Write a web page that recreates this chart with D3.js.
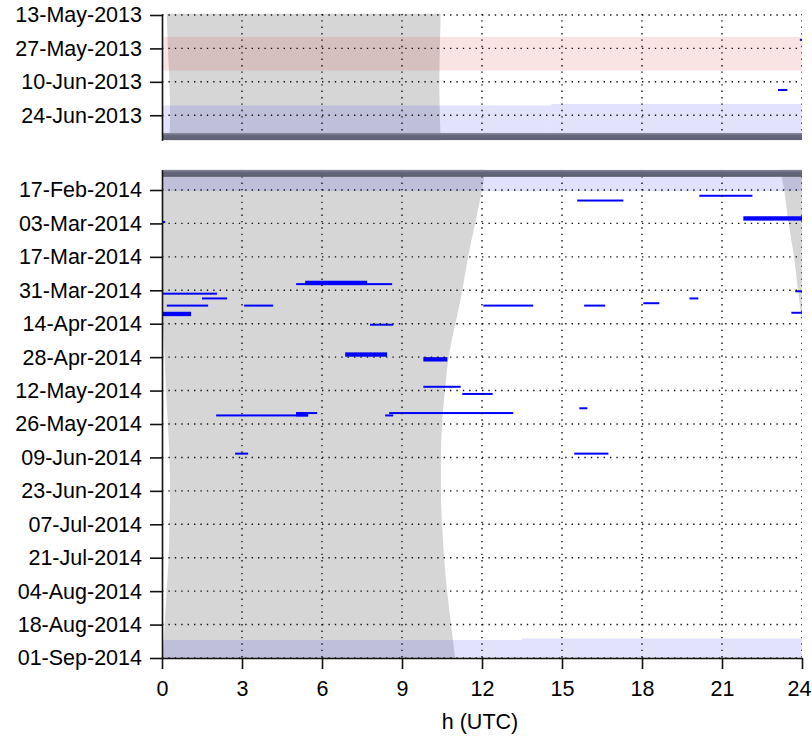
<!DOCTYPE html>
<html><head><meta charset="utf-8">
<script src="https://cdn.jsdelivr.net/npm/d3@7"></script>
<style>
body{margin:0;background:#fff}
svg text{font-family:"Liberation Sans",Arial,sans-serif}
</style>
</head><body>
<svg id="chart" width="812" height="740"></svg>
<script>
// ---------------- data ----------------
const hourTicks = [0, 3, 6, 9, 12, 15, 18, 21, 24];
const topTickLabels = ["13-May-2013", "27-May-2013", "10-Jun-2013", "24-Jun-2013"];
const bottomTickLabels = ["17-Feb-2014", "03-Mar-2014", "17-Mar-2014", "31-Mar-2014", "14-Apr-2014",
  "28-Apr-2014", "12-May-2014", "26-May-2014", "09-Jun-2014", "23-Jun-2014", "07-Jul-2014",
  "21-Jul-2014", "04-Aug-2014", "18-Aug-2014", "01-Sep-2014"];
const topDomain = ["2013-05-12T12:00", "2013-07-04T12:00"];
const bottomDomain = ["2014-02-08T12:00", "2014-09-01T00:00"];
const xLabel = "h (UTC)";

// night (grey): sunset hour (values > 24 = after midnight) and sunrise hour
const nightDatesTop = ["2013-05-12T00:00", "2013-05-27T00:00", "2013-06-10T00:00", "2013-06-24T00:00", "2013-07-05T00:00"];
const nightSetTop   = [24.18, 24.22, 24.28, 24.30, 24.28];
const nightRiseTop  = [10.45, 10.42, 10.40, 10.42, 10.45];
const nightDatesBottom = ["2014-02-08T00:00", "2014-02-17T00:00", "2014-03-03T00:00", "2014-03-17T00:00",
  "2014-03-31T00:00", "2014-04-09T00:00", "2014-04-14T00:00", "2014-04-28T00:00", "2014-05-12T00:00",
  "2014-05-26T00:00", "2014-06-09T00:00", "2014-06-23T00:00", "2014-07-07T00:00", "2014-07-21T00:00",
  "2014-08-04T00:00", "2014-08-18T00:00", "2014-09-01T00:00"];
const nightSetBottom  = [23.18, 23.33, 23.50, 23.70, 23.85, 23.95, 24.03, 24.10, 24.15, 24.22, 24.28,
  24.30, 24.28, 24.25, 24.17, 24.10, 24.02];
const nightRiseBottom = [12.14, 12.00, 11.74, 11.48, 11.26, 11.10, 11.00, 10.75, 10.61, 10.50, 10.46,
  10.46, 10.50, 10.58, 10.69, 10.84, 10.99];

// shaded periods
const bandPanel = ["top", "top", "top", "top", "bottom", "bottom", "bottom", "bottom"];
const bandKind  = ["red", "blue", "blue", "dark", "dark", "blue", "blue", "blue"];
const bandStart = ["2013-05-22T05:00", "2013-06-19T22:00", "2013-06-19T07:00", "2013-07-01T10:00",
  "2014-02-08T12:00", "2014-02-11T12:00", "2014-08-24T11:00", "2014-08-23T20:00"];
const bandEnd   = ["2013-06-05T06:00", "2013-07-01T10:00", "2013-07-01T10:00", "2013-07-04T12:00",
  "2014-02-11T12:00", "2014-02-17T10:00", "2014-09-01T00:00", "2014-09-01T00:00"];
const bandH0 = [0, 0, 14.6, 0, 0, 0, 0, 13.5];
const bandH1 = [24, 14.6, 24, 24, 24, 24, 13.5, 24];

// events: start day, duration in days, start hour, end hour
const eventDate = ["2013-05-23", "2013-06-13",
  "2014-02-19", "2014-02-21", "2014-02-28", "2014-03-02", "2014-03-28", "2014-03-27", "2014-03-31",
  "2014-04-01", "2014-04-03", "2014-04-03", "2014-04-05", "2014-04-06", "2014-04-06", "2014-04-06",
  "2014-04-06", "2014-04-09", "2014-04-09", "2014-04-14", "2014-04-26", "2014-04-28", "2014-05-10",
  "2014-05-13", "2014-05-19", "2014-05-21", "2014-05-21", "2014-05-22", "2014-05-21", "2014-05-22",
  "2014-06-07", "2014-06-07"];
const eventDays = [1, 1,
  1, 1, 2, 1, 1, 2, 1,
  1, 1, 1, 1, 1, 1, 1,
  1, 2, 1, 1, 2, 2, 1,
  1, 1, 1, 2, 1, 1, 1,
  1, 1];
const eventH0 = [23.92, 23.10,
  20.15, 15.57, 21.80, 0.00, 5.03, 5.37, 23.75,
  0.00, 1.50, 19.78, 18.05, 0.18, 3.08, 12.05,
  15.83, 0.00, 23.60, 7.80, 6.87, 9.80, 9.80,
  11.26, 15.65, 5.03, 5.03, 2.03, 8.52, 8.37,
  2.74, 15.46];
const eventH1 = [24.00, 23.45,
  22.14, 17.30, 24.00, 0.12, 8.63, 7.69, 24.00,
  2.06, 2.44, 20.11, 18.65, 1.73, 4.17, 13.92,
  16.62, 1.09, 24.00, 8.67, 8.44, 10.70, 11.20,
  12.40, 15.95, 5.82, 5.48, 5.48, 13.17, 8.67,
  3.23, 16.74];

// ---------------- drawing ----------------
const parseT = d3.utcParse("%Y-%m-%dT%H:%M");
const parseD = d3.utcParse("%Y-%m-%d");
const parseLbl = d3.utcParse("%d-%b-%Y");
const fmtLbl = d3.utcFormat("%d-%b-%Y");
const FONT = '"Liberation Sans", Arial, sans-serif';

const svg = d3.select("#chart");
const X0 = 162, X1 = 802;
const x = d3.scaleLinear().domain([0, 24]).range([X0, X1]);

const panels = {
  top: {
    y: d3.scaleUtc().domain(topDomain.map(parseT)).range([13.8, 140.3]),
    ticks: topTickLabels.map(parseLbl),
    night: nightDatesTop.map((d, i) => ({date: parseT(d), set: nightSetTop[i], rise: nightRiseTop[i]}))
  },
  bottom: {
    y: d3.scaleUtc().domain(bottomDomain.map(parseT)).range([169.7, 658]),
    ticks: bottomTickLabels.map(parseLbl),
    night: nightDatesBottom.map((d, i) => ({date: parseT(d), set: nightSetBottom[i], rise: nightRiseBottom[i]}))
  }
};

const colors = {
  night: "#d6d6d6",
  red: "rgba(215,40,40,0.13)",
  blue: "rgba(60,60,235,0.15)",
  dark: "#67677c",
  event: "#0000ff"
};

const defs = svg.append("defs");

Object.entries(panels).forEach(([name, p]) => {
  const y = p.y;
  const [yA, yB] = y.range();
  const clipId = "clip-" + name;
  defs.append("clipPath").attr("id", clipId)
    .append("rect").attr("x", X0).attr("y", yA).attr("width", X1 - X0).attr("height", yB - yA);

  const g = svg.append("g").attr("clip-path", `url(#${clipId})`);

  // night area
  const areaL = d3.area().curve(d3.curveMonotoneY)
    .y(d => y(d.date)).x0(d => x(Math.max(0, d.set - 24))).x1(d => x(d.rise));
  const areaR = d3.area().curve(d3.curveMonotoneY)
    .y(d => y(d.date)).x0(d => x(Math.min(24, d.set))).x1(() => x(24));
  g.append("path").attr("d", areaL(p.night)).attr("fill", colors.night);
  g.append("path").attr("d", areaR(p.night)).attr("fill", colors.night);

  // shaded bands (non-dark)
  const bands = bandPanel.map((pn, i) => ({pn, kind: bandKind[i], s: parseT(bandStart[i]), e: parseT(bandEnd[i]), h0: bandH0[i], h1: bandH1[i]}))
    .filter(b => b.pn === name);
  g.selectAll("rect.band").data(bands.filter(b => b.kind !== "dark")).join("rect")
    .attr("class", "band")
    .attr("x", d => x(d.h0)).attr("width", d => x(d.h1) - x(d.h0))
    .attr("y", d => y(d.s)).attr("height", d => y(d.e) - y(d.s))
    .attr("fill", d => colors[d.kind]);

  // events
  const evs = eventDate.map((d, i) => ({s: parseD(d), days: eventDays[i], h0: eventH0[i], h1: eventH1[i]}))
    .filter(e => e.s >= y.domain()[0] && e.s <= y.domain()[1]);
  g.selectAll("rect.ev").data(evs).join("rect")
    .attr("class", "ev")
    .attr("x", d => x(d.h0)).attr("width", d => Math.max(1, x(d.h1) - x(d.h0)))
    .attr("y", d => y(d.s)).attr("height", d => y(d3.utcDay.offset(d.s, d.days)) - y(d.s) - 0.4)
    .attr("fill", colors.event);

  // grid
  const grid = g.append("g").attr("stroke", "#111").attr("stroke-width", 1.4)
    .attr("stroke-dasharray", "1.4 5").attr("fill", "none");
  grid.selectAll("line.v").data(hourTicks.filter(h => h > 0)).join("line")
    .attr("x1", d => x(d)).attr("x2", d => x(d)).attr("y1", yA).attr("y2", yB);
  grid.selectAll("line.h").data(p.ticks).join("line")
    .attr("x1", X0).attr("x2", X1).attr("y1", d => y(d)).attr("y2", d => y(d));

  // dark bands
  const darkGrad = "grad-" + name;
  const lg = defs.append("linearGradient").attr("id", darkGrad).attr("x1", 0).attr("x2", 0).attr("y1", 0).attr("y2", 1);
  lg.append("stop").attr("offset", "0%").attr("stop-color", "#8e8ea3");
  lg.append("stop").attr("offset", "35%").attr("stop-color", colors.dark);
  lg.append("stop").attr("offset", "100%").attr("stop-color", "#5e5e72");
  g.selectAll("rect.dark").data(bands.filter(b => b.kind === "dark")).join("rect")
    .attr("class", "dark")
    .attr("x", d => x(d.h0)).attr("width", d => x(d.h1) - x(d.h0))
    .attr("y", d => y(d.s)).attr("height", d => y(d.e) - y(d.s))
    .attr("fill", `url(#${darkGrad})`);

  // left axis
  const ax = svg.append("g").attr("transform", `translate(${X0},0)`)
    .call(d3.axisLeft(y).tickValues(p.ticks).tickFormat(fmtLbl).tickSize(12).tickSizeOuter(0).tickPadding(8));
  ax.selectAll("text").attr("font-size", 21.5).attr("fill", "#000").style("font-family", FONT);
  ax.selectAll("line,path").attr("stroke", "#111").attr("stroke-width", 1.6);
});

// bottom axis
const yb = panels.bottom.y.range()[1];
const bx = svg.append("g").attr("transform", `translate(0,${yb})`)
  .call(d3.axisBottom(x).tickValues(hourTicks).tickFormat(d3.format("d")).tickSize(11).tickSizeOuter(0).tickPadding(12));
bx.selectAll("text").attr("font-size", 21.5).attr("fill", "#000").style("font-family", FONT)
  .attr("dx", d => d === 24 ? -3 : 0);
bx.selectAll("line,path").attr("stroke", "#111").attr("stroke-width", 1.6);

svg.append("text").attr("x", (X0 + X1) / 2 - 2).attr("y", 729)
  .attr("text-anchor", "middle").attr("font-size", 21.5).attr("fill", "#000").text(xLabel);
</script>
</body></html>
